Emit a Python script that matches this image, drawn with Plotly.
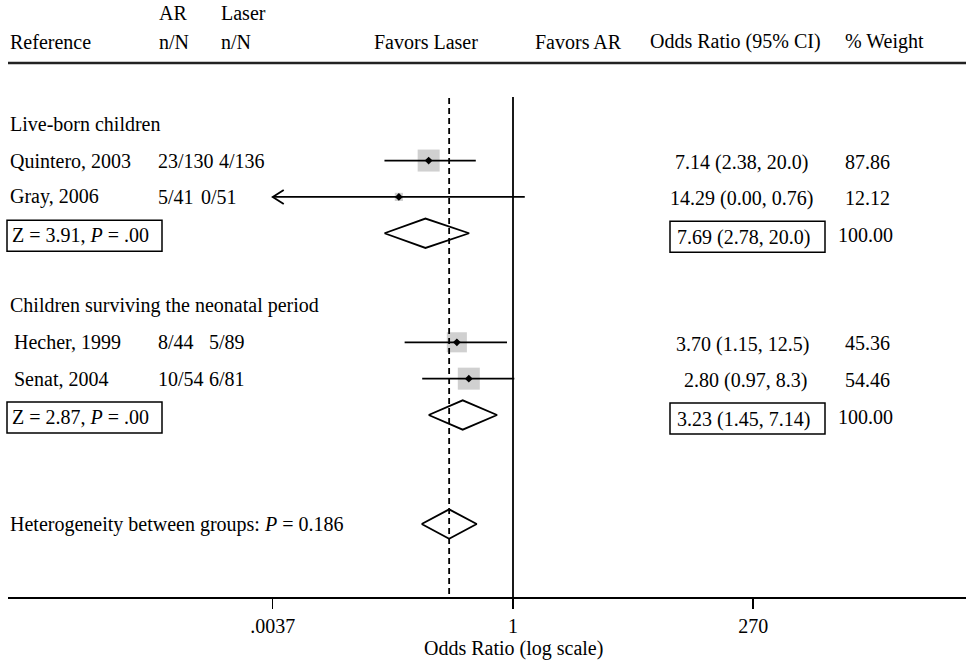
import math
import plotly.graph_objects as go

# ---------------- data ----------------
studies = ["Quintero, 2003", "Gray, 2006", "Hecher, 1999", "Senat, 2004"]
study_group = [0, 0, 1, 1]
ar_nN = ["23/130", "5/41", "8/44", "10/54"]
laser_nN = ["4/136", "0/51", "5/89", "6/81"]
study_or = [7.14, 14.29, 3.70, 2.80]
study_lo = [2.38, 0.00, 1.15, 0.97]
study_hi = [20.0, 0.76, 12.5, 8.3]
study_or_text = ["7.14 (2.38, 20.0)", "14.29 (0.00, 0.76)", "3.70 (1.15, 12.5)", "2.80 (0.97, 8.3)"]
study_weight = [87.86, 12.12, 45.36, 54.46]

groups = ["Live-born children", "Children surviving the neonatal period"]
group_or = [7.69, 3.23]
group_lo = [2.78, 1.45]
group_hi = [20.0, 7.14]
group_or_text = ["7.69 (2.78, 20.0)", "3.23 (1.45, 7.14)"]
group_weight_text = ["100.00", "100.00"]
group_z_text = ["Z = 3.91, <i>P</i> = .00", "Z = 2.87, <i>P</i> = .00"]

overall_or = 4.43
overall_lo = 2.33
overall_hi = 8.4
heterogeneity_text = "Heterogeneity between groups: <i>P</i> = 0.186"

tick_vals = [0.0037, 1, 270]
tick_text = [".0037", "1", "270"]


# plotted on the reciprocal scale (Favors Laser on the left)
def recip(v):
    return 1.0 / v


# ---------------- layout geometry ----------------
FONT = "Liberation Serif"
FS = 20
W, H = 966, 662
AXIS_Y = 597                      # pixel y of x axis line
ML, MR, MT = 8, 0, 0
MB = H - AXIS_Y
PW, PH = W - ML - MR, H - MT - MB
ROW0, ROWH = 124.2, 36.35         # pixel y of first row, row height
X1PX, PXDEC = 513.0, 98.8         # pixel of OR=1, pixels per decade


def row_of_px(p):
    return (p - ROW0) / ROWH


def pxx(p):
    return (p - ML) / PW


def pxy(p):
    return 1 - (p - MT) / PH


rows = [groups[0], studies[0], studies[1], "pool0", "",
        groups[1], studies[2], studies[3], "pool1", "", "", "overall"]
study_rows = [rows.index(s) for s in studies]
pool_rows = [rows.index("pool0"), rows.index("pool1")]
group_rows = [rows.index(g) for g in groups]
overall_row = rows.index("overall")

fig = go.Figure()

# squares (weights normalised within subgroup)
sizes = []
for i, w in enumerate(study_weight):
    gmax = max(ww for ww, g in zip(study_weight, study_group) if g == study_group[i])
    sizes.append(22 * math.sqrt(w / gmax))
fig.add_trace(go.Scatter(
    x=[recip(v) for v in study_or], y=study_rows, mode="markers",
    marker=dict(symbol="square", size=sizes, color="#bcbcbc", line=dict(width=0)),
    hoverinfo="skip", showlegend=False))

axis_min = tick_vals[0]
for i in range(len(studies)):
    left = recip(study_hi[i])
    right = recip(study_lo[i]) if study_lo[i] > 0 else None
    a, b = left, right
    if right is None:            # unbounded interval: truncate at axis minimum
        a, b = axis_min, left
    lo_x, hi_x = min(a, b), max(a, b)
    r = study_rows[i]
    fig.add_trace(go.Scatter(
        x=[lo_x, hi_x], y=[r, r], mode="lines",
        line=dict(color="black", width=1.8), hoverinfo="skip", showlegend=False))
    if right is None:
        tip = axis_min
        f = 10 ** (11 / PXDEC)
        dy = 7 / ROWH
        fig.add_trace(go.Scatter(
            x=[tip * f, tip, tip * f], y=[r - dy, r, r + dy], mode="lines",
            line=dict(color="black", width=1.8), hoverinfo="skip", showlegend=False))

fig.add_trace(go.Scatter(
    x=[recip(v) for v in study_or], y=study_rows, mode="markers",
    marker=dict(symbol="diamond", size=6, color="black"),
    hoverinfo="skip", showlegend=False))

h = 14.7 / ROWH


def diamond(est, lo, hi, r):
    e, a, b = recip(est), recip(hi), recip(lo)
    fig.add_trace(go.Scatter(
        x=[a, e, b, e, a], y=[r, r - h, r, r + h, r], mode="lines",
        fill="toself", fillcolor="white", line=dict(color="black", width=1.8),
        hoverinfo="skip", showlegend=False))


for k in range(len(groups)):
    diamond(group_or[k], group_lo[k], group_hi[k], pool_rows[k])
diamond(overall_or, overall_lo, overall_hi, overall_row)

ybottom = row_of_px(AXIS_Y)
ytop = row_of_px(MT)
fig.add_trace(go.Scatter(
    x=[1, 1], y=[row_of_px(97), ybottom], mode="lines",
    line=dict(color="black", width=1.8), hoverinfo="skip", showlegend=False))
fig.add_trace(go.Scatter(
    x=[recip(overall_or)] * 2, y=[row_of_px(98), ybottom], mode="lines",
    line=dict(color="black", width=1.8, dash="6px,4px"), hoverinfo="skip", showlegend=False))

# ---------------- text ----------------
ann = []


def txt(xp, yp, t, anchor="left"):
    ann.append(dict(x=pxx(xp), y=pxy(yp), xref="paper", yref="paper", text=t,
                    showarrow=False, xanchor=anchor, yanchor="middle",
                    font=dict(family=FONT, size=FS, color="black")))


def rowpx(r):
    return ROW0 + r * ROWH


HDR1, HDR2, RULE = 13, 42, 63
txt(157, HDR1, "AR")
txt(219, HDR1, "Laser")
txt(8, HDR2, "Reference")
txt(157, HDR2, "n/N")
txt(219, HDR2, "n/N")
txt(372, HDR2, "Favors Laser")
txt(533, HDR2, "Favors AR")
txt(648, HDR2, "Odds Ratio (95% CI)")
txt(843, HDR2, "% Weight")

for k, g in enumerate(groups):
    txt(8, rowpx(group_rows[k]), g)

name_x = [8, 8, 12, 12]
laser_x = [217, 199, 207, 207]
or_x = [673, 668, 674, 682]
for i in range(len(studies)):
    yp = rowpx(study_rows[i])
    txt(name_x[i], yp, studies[i])
    txt(156, yp, ar_nN[i])
    txt(laser_x[i], yp, laser_nN[i])
    txt(or_x[i], yp + 2, study_or_text[i])
    txt(843, yp + 1, f"{study_weight[i]:.2f}")

shapes = []
for k in range(len(groups)):
    yp = rowpx(pool_rows[k])
    txt(10, yp + 2, group_z_text[k])
    shapes.append(dict(type="rect", xref="paper", yref="paper",
                       x0=pxx(7), x1=pxx(162), y0=pxy(yp - 13), y1=pxy(yp + 18),
                       line=dict(color="black", width=1.5)))
    txt(675, yp + 4, group_or_text[k])
    shapes.append(dict(type="rect", xref="paper", yref="paper",
                       x0=pxx(670), x1=pxx(825), y0=pxy(yp - 12), y1=pxy(yp + 19),
                       line=dict(color="black", width=1.5)))
    txt(836, yp + 2, group_weight_text[k])

txt(8, rowpx(overall_row), heterogeneity_text)

shapes.append(dict(type="line", xref="paper", yref="paper", x0=0, x1=1,
                   y0=pxy(RULE), y1=pxy(RULE), line=dict(color="#222222", width=2.5)))

txt(513, 648, "Odds Ratio (log scale)", anchor="center")

lo_log = (ML - X1PX) / PXDEC
hi_log = (W - MR - X1PX) / PXDEC

fig.update_layout(
    width=W, height=H,
    margin=dict(l=ML, r=MR, t=MT, b=MB, pad=0),
    paper_bgcolor="white", plot_bgcolor="white",
    showlegend=False,
    annotations=ann, shapes=shapes,
    xaxis=dict(type="log", range=[lo_log, hi_log], showgrid=False, zeroline=False,
               showline=True, linecolor="black", linewidth=1.5,
               ticks="outside", ticklen=10, tickwidth=1.5, tickcolor="black",
               tickvals=tick_vals, ticktext=tick_text,
               tickfont=dict(family=FONT, size=FS, color="black"),
               fixedrange=True),
    yaxis=dict(range=[ybottom, ytop], visible=False, showgrid=False, zeroline=False,
               fixedrange=True),
    font=dict(family=FONT, size=FS, color="black"),
)

fig.write_html("out.html", config={"displayModeBar": False, "staticPlot": True},
               post_script="document.body.style.margin='0';")
